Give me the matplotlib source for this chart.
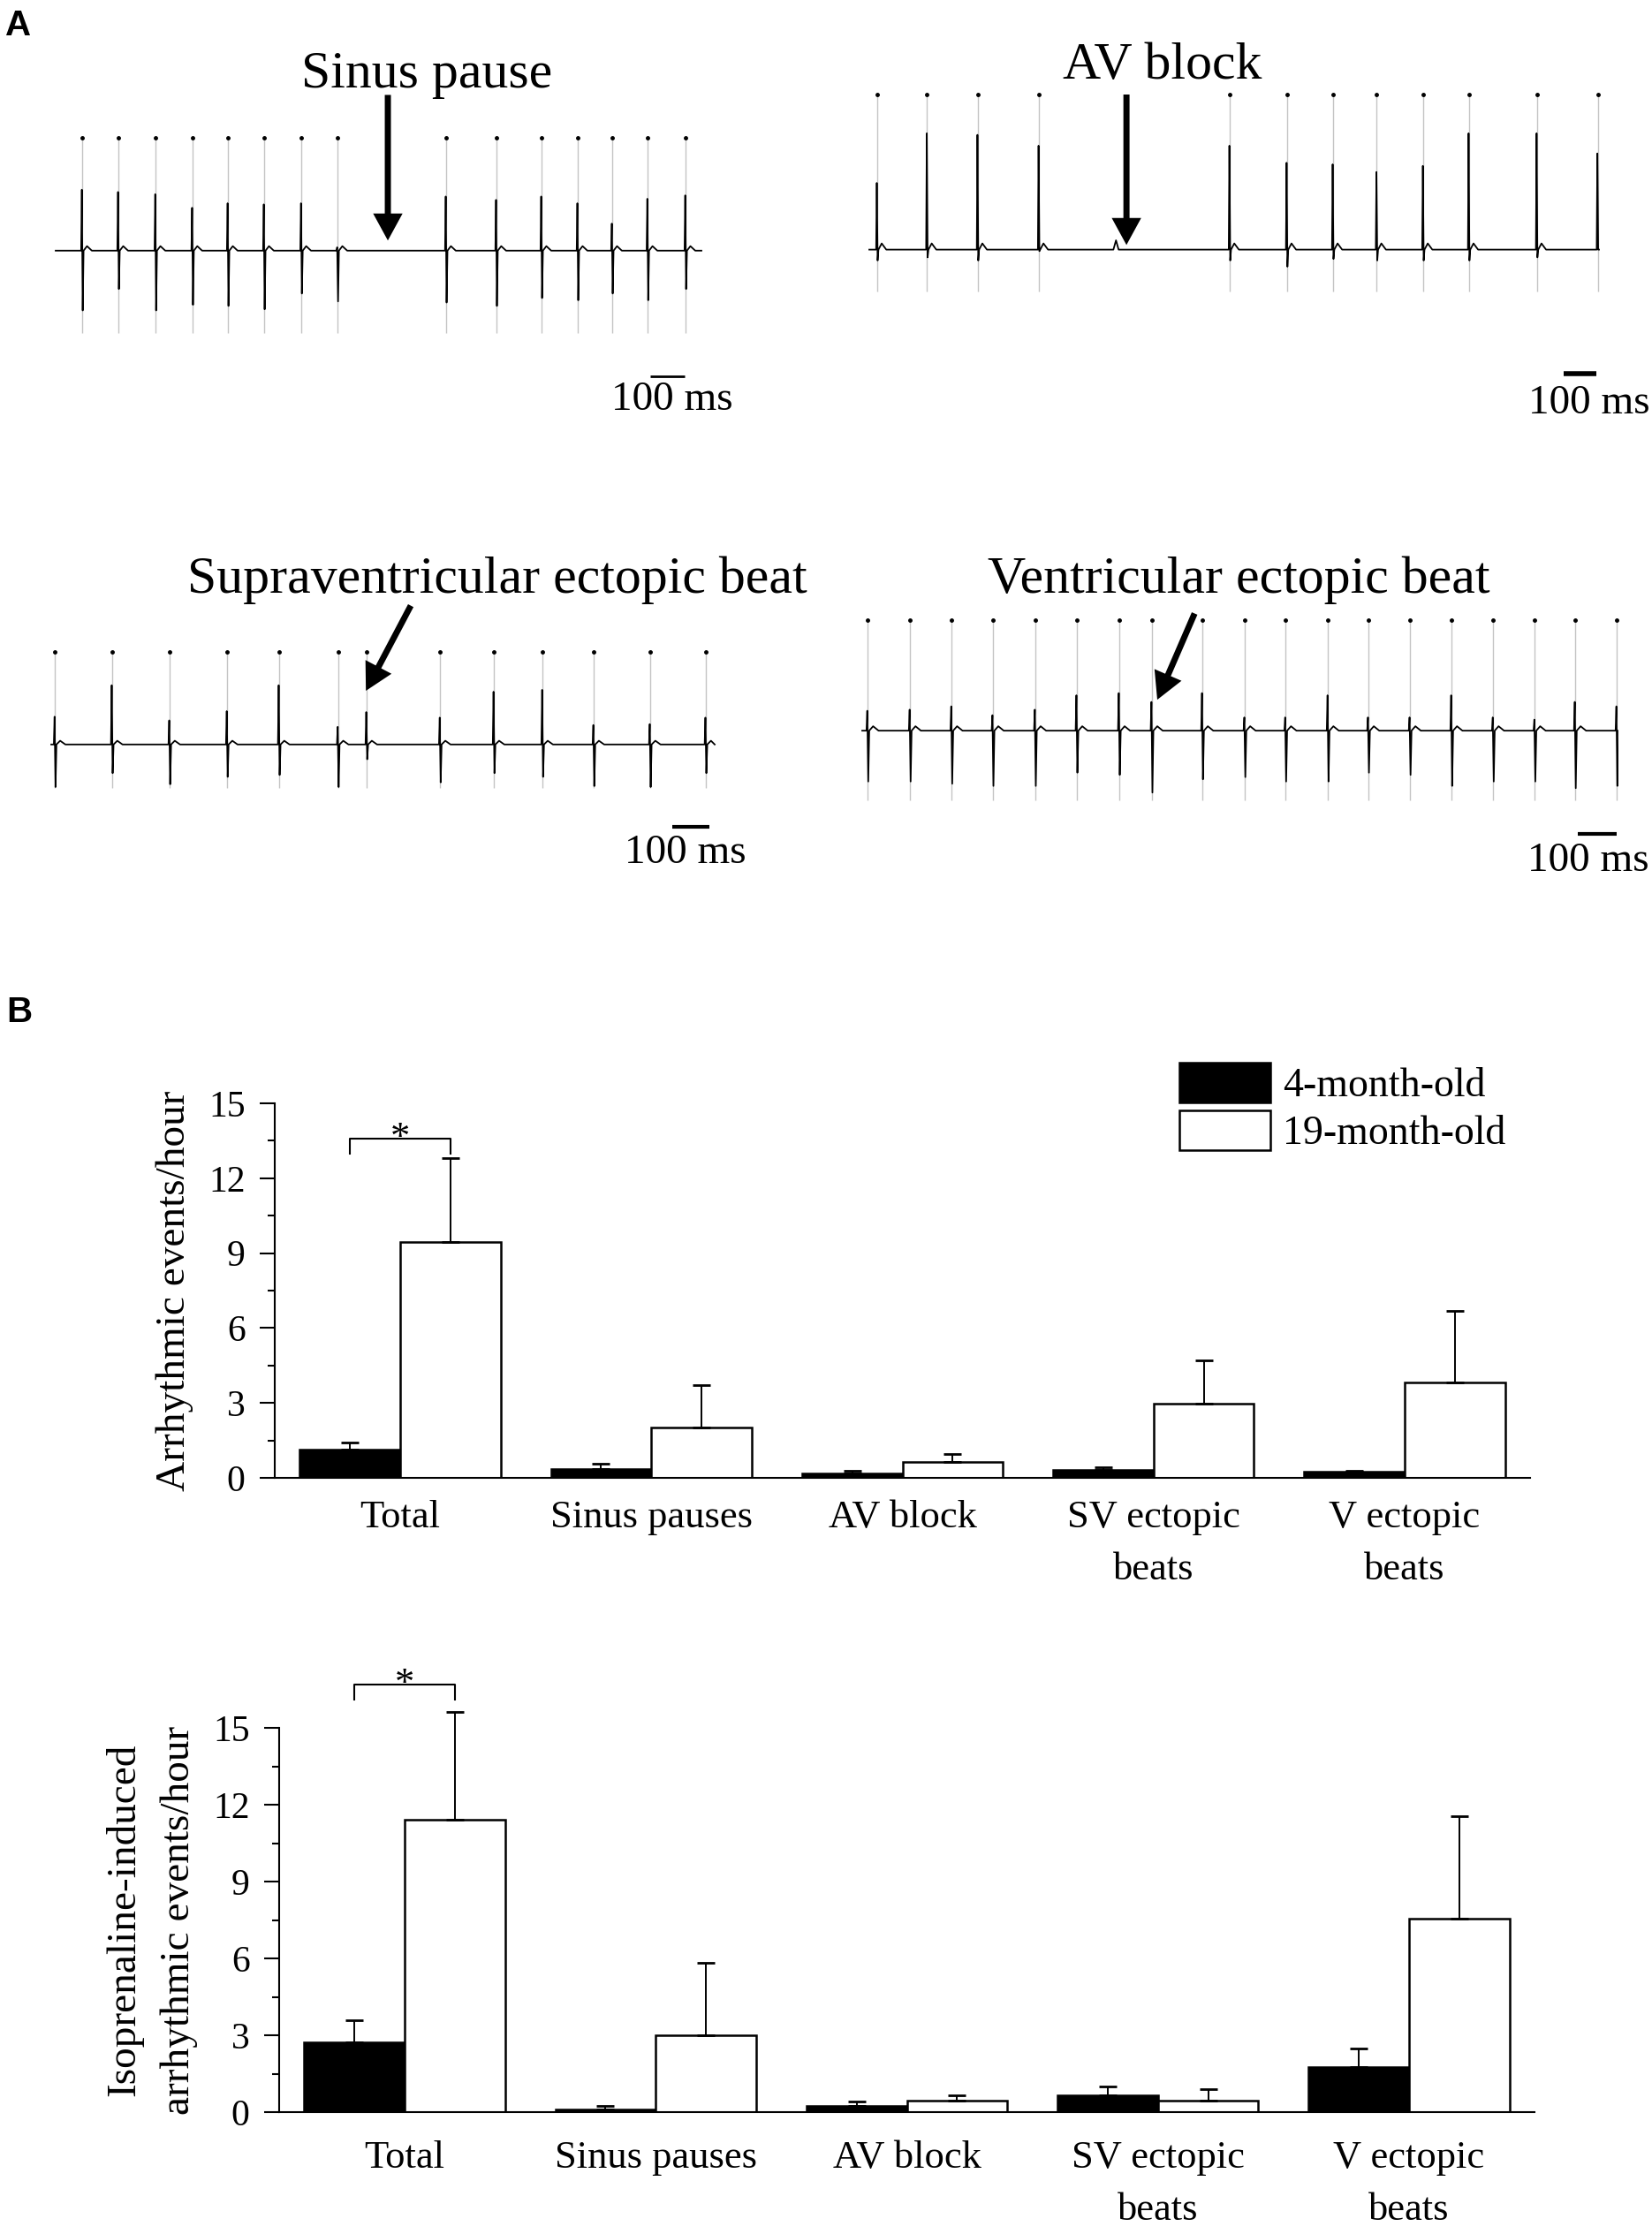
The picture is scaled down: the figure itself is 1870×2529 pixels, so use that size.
import matplotlib.pyplot as plt
import numpy as np
from matplotlib.ticker import MultipleLocator

plt.rcParams['font.family'] = ['Liberation Serif', 'DejaVu Serif']

W, H = 1870, 2529

# ---- panel A: ECG traces (beat times in ms, R/S amplitude relative to marker height) ----
sp_beats = [77, 182, 290, 397, 500, 605, 713, 818, 1133, 1279, 1410, 1515, 1615, 1718, 1828]
sp_r = [0.54, 0.52, 0.50, 0.38, 0.42, 0.41, 0.42, 0.03, 0.48, 0.45, 0.48, 0.42, 0.24, 0.46, 0.49]
sp_s = [0.53, 0.34, 0.53, 0.48, 0.49, 0.52, 0.38, 0.45, 0.46, 0.49, 0.42, 0.44, 0.38, 0.44, 0.34]

av_beats = [24, 177, 332, 519, 1103, 1278, 1419, 1553, 1695, 1835, 2043, 2229]
av_r = [0.43, 0.75, 0.74, 0.67, 0.67, 0.56, 0.55, 0.50, 0.54, 0.75, 0.75, 0.62]
av_s = [0.07, 0.05, 0.07, 0.01, 0.07, 0.11, 0.06, 0.07, 0.07, 0.07, 0.05, 0.0]
av_blocked_p = [755]

sv_beats = [10, 164, 319, 474, 614, 773, 850, 1048, 1193, 1324, 1462, 1614, 1764]
sv_r = [0.30, 0.64, 0.26, 0.36, 0.64, 0.19, 0.35, 0.29, 0.57, 0.59, 0.21, 0.22, 0.29]
sv_s = [0.46, 0.31, 0.43, 0.35, 0.33, 0.46, 0.16, 0.41, 0.31, 0.35, 0.45, 0.46, 0.31]

ve_beats = [14, 123, 230, 336, 445, 552, 661, 745, 875, 984, 1089, 1198, 1302, 1409,
            1516, 1623, 1730, 1834, 1941]
ve_r = [0.18, 0.19, 0.22, 0.14, 0.19, 0.32, 0.34, 0.26, 0.34, 0.12, 0.12, 0.32, 0.12, 0.12,
        0.32, 0.12, 0.10, 0.26, 0.22]
ve_s = [0.46, 0.46, 0.48, 0.50, 0.50, 0.38, 0.40, 0.56, 0.44, 0.42, 0.46, 0.46, 0.38, 0.40,
        0.50, 0.46, 0.46, 0.52, 0.50]

# ---- panel B: arrhythmic events/hour (mean, SEM) ----
groups = ['Total', 'Sinus pauses', 'AV block', 'SV ectopic\nbeats', 'V ectopic\nbeats']
base_young = [1.14, 0.35, 0.19, 0.32, 0.25]
base_young_err = [0.27, 0.23, 0.10, 0.11, 0.05]
base_old = [9.46, 2.00, 0.62, 2.98, 3.82]
base_old_err = [3.36, 1.73, 0.32, 1.74, 2.87]
iso_young = [2.74, 0.11, 0.24, 0.64, 1.76]
iso_young_err = [0.85, 0.13, 0.18, 0.36, 0.72]
iso_old = [11.41, 3.00, 0.44, 0.44, 7.55]
iso_old_err = [4.21, 2.83, 0.21, 0.44, 4.01]
legend_labels = ['4-month-old', '19-month-old']

fig = plt.figure(figsize=(W / 100, H / 100), dpi=100)


def px_box(x0, x1, y0, y1):
    return [x0 / W, 1 - y1 / H, (x1 - x0) / W, (y1 - y0) / H]


def ecg_trace(beats, r_amp, s_amp, t_end, p_waves=(), t_wave=0.04):
    pts = [(0.0, 0.0)]
    for t, r, s in zip(beats, r_amp, s_amp):
        for dx, dy in [(-3, 0), (-1, r), (1.5, -s), (4, 0), (14, t_wave), (28, 0)]:
            if 0 < t + dx < t_end:
                pts.append((t + dx, dy))
    for t in p_waves:
        pts += [(t - 8, 0), (t, 0.06), (t + 8, 0)]
    pts.append((t_end, 0.0))
    pts.sort()
    return [p[0] for p in pts], [p[1] for p in pts]


arrow_kw = dict(facecolor='k', edgecolor='none', width=5, headwidth=24, headlength=22, shrink=0)


def ecg_panel(box, t_end, mbot, beats, r, s, p_waves=()):
    ax = fig.add_axes(px_box(*box))
    ax.set_xlim(0, t_end)
    ax.set_ylim(mbot, 1.0)
    ax.axis('off')
    ax.vlines(beats, mbot, 1.0, color='#c4c4c4', lw=1.0, clip_on=False)
    ax.plot(beats, np.ones(len(beats)), 'o', color='k', ms=2.5, clip_on=False)
    tx, ty = ecg_trace(beats, r, s, t_end, p_waves)
    ax.plot(tx, ty, color='k', lw=1.3, clip_on=False)
    return ax


def scale_bar(ax, x0, y, tx, ty, lw):
    ax.plot([x0, x0 + 100], [y, y], color='k', lw=lw, solid_capstyle='butt', clip_on=False)
    ax.text(tx, ty, '100 ms', ha='center', va='center', fontsize=34)


# sinus pause
ax = ecg_panel((63, 794, 156, 377), 1874, -0.73, sp_beats, sp_r, sp_s)
ax.text(1077, 1.45, 'Sinus pause', ha='center', va='baseline', fontsize=43)
ax.annotate('', xy=(964, 0.09), xytext=(964, 1.38), arrowprops=arrow_kw, annotation_clip=False)
scale_bar(ax, 1726, -1.11, 1790, -1.32, 2)

# AV block
ax = ecg_panel((984, 1810, 107, 330), 2233, -0.27, av_beats, av_r, av_s, av_blocked_p)
ax.text(897, 1.10, 'AV block', ha='center', va='baseline', fontsize=43)
ax.annotate('', xy=(787, 0.03), xytext=(787, 1.0), arrowprops=arrow_kw, annotation_clip=False)
scale_bar(ax, 2124, -0.80, 2204, -0.99, 4)

# supraventricular ectopic beat
ax = ecg_panel((58, 809, 738, 892), 1788, -0.47, sv_beats, sv_r, sv_s)
ax.text(1202, 1.64, 'Supraventricular ectopic beat', ha='center', va='baseline', fontsize=43)
ax.annotate('', xy=(848, 0.58), xytext=(969, 1.50), arrowprops=arrow_kw, annotation_clip=False)
scale_bar(ax, 1674, -0.89, 1710, -1.17, 3)

# ventricular ectopic beat
ax = ecg_panel((976, 1831, 702, 906), 1943, -0.63, ve_beats, ve_r, ve_s)
ax.text(968, 1.25, 'Ventricular ectopic beat', ha='center', va='baseline', fontsize=43)
ax.annotate('', xy=(759, 0.28), xytext=(855, 1.06), arrowprops=arrow_kw, annotation_clip=False)
scale_bar(ax, 1841, -0.93, 1868, -1.18, 3)

# ---- bar charts ----
ekw = dict(ecolor='k', elinewidth=1.4, capsize=7, capthick=2)


def bar_panel(box, young, young_err, old, old_err, ylabel, xpad, sig_y, legend=False):
    ax = fig.add_axes(px_box(*box))
    x = np.arange(len(groups))
    zeros = np.zeros(len(groups))
    b1 = ax.bar(x - 0.2, young, 0.4, color='black', edgecolor='black', linewidth=1.8,
                yerr=[zeros, young_err], error_kw=ekw)
    b2 = ax.bar(x + 0.2, old, 0.4, color='white', edgecolor='black', linewidth=1.8,
                yerr=[zeros, old_err], error_kw=ekw)
    for b in (b1, b2):
        for ln in b.errorbar.lines[1] + tuple(b.errorbar.lines[2]):
            ln.set_clip_on(False)
    ax.set_xlim(-0.5, 4.5)
    ax.set_ylim(0, 15)
    ax.set_yticks(np.arange(0, 16, 3))
    ax.yaxis.set_minor_locator(MultipleLocator(1.5))
    for side in ('top', 'right'):
        ax.spines[side].set_visible(False)
    for side in ('left', 'bottom'):
        ax.spines[side].set_linewidth(1.5)
    ax.tick_params(axis='y', which='major', direction='out', length=12, width=1.5,
                   labelsize=30, pad=12)
    ax.tick_params(axis='y', which='minor', direction='out', length=6, width=1.5)
    ax.set_xticks(x)
    ax.set_xticklabels(groups, fontsize=32, linespacing=1.6)
    ax.tick_params(axis='x', length=0, pad=xpad)
    ax.set_ylabel(ylabel, fontsize=34, linespacing=1.6)
    ax.yaxis.set_label_coords(-0.0647, 0.5)
    # significance bracket on "Total"
    ax.plot([-0.2, -0.2, 0.2, 0.2], [sig_y - 0.6, sig_y, sig_y, sig_y - 0.6],
            color='k', lw=1.5, clip_on=False)
    ax.text(0, sig_y, '*', ha='center', va='center', fontsize=32, clip_on=False)
    if legend:
        ax.legend([b1, b2], legend_labels, loc='upper left',
                  bbox_to_anchor=(1335 / W, 1 - 1203 / H), bbox_transform=fig.transFigure,
                  frameon=False, fontsize=33, handlelength=2.25, handleheight=1.14,
                  labelspacing=0.13, handletextpad=0.3, borderpad=0, borderaxespad=0)
    return ax


bar_panel((311, 1732, 1249, 1673), base_young, base_young_err, base_old, base_old_err,
          'Arrhythmic events/hour', 18, 13.58, legend=True)
bar_panel((316, 1737, 1956, 2391), iso_young, iso_young_err, iso_old, iso_old_err,
          'Isoprenaline-induced\narrhythmic events/hour', 23, 16.69)

fig.text(6 / W, 1 - 10 / H, 'A', fontsize=29, fontweight='bold', family='Liberation Sans',
         ha='left', va='top')
fig.text(7 / W, 1 - 1127 / H, 'B', fontsize=29, fontweight='bold', family='Liberation Sans',
         ha='left', va='top')

fig.savefig('out.png', dpi=100)
